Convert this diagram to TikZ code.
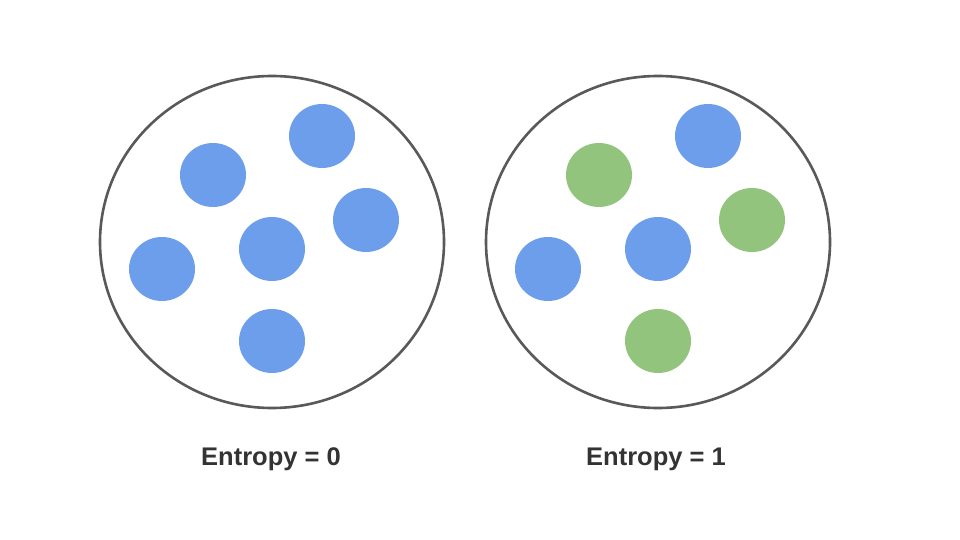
\documentclass[tikz,border=0pt]{standalone}
\usepackage{fontspec}
\setmainfont{Liberation Sans}
\definecolor{dotblue}{HTML}{6D9EEB}
\definecolor{dotgreen}{HTML}{93C47D}
\definecolor{rim}{HTML}{595959}
\definecolor{txt}{HTML}{333333}
\begin{document}
\begin{tikzpicture}[x=1pt,y=-1pt,
  rimstyle/.style={draw=rim,line width=2.6pt},
  bdot/.style={fill=dotblue},
  gdot/.style={fill=dotgreen},
  lbl/.style={font=\bfseries\fontsize{25.5}{29}\selectfont,text=txt}]
\useasboundingbox (0,0) rectangle (960,540);
\fill[white] (0,0) rectangle (960,540);
% left set
\draw[rimstyle] (272,242) ellipse [x radius=172, y radius=166];
\fill[bdot] (322,136) ellipse [x radius=33, y radius=32];
\fill[bdot] (213,175) ellipse [x radius=33, y radius=32];
\fill[bdot] (366,220) ellipse [x radius=33, y radius=32];
\fill[bdot] (272,249) ellipse [x radius=33, y radius=32];
\fill[bdot] (162,269) ellipse [x radius=33, y radius=32];
\fill[bdot] (272,341) ellipse [x radius=33, y radius=32];
% right set
\draw[rimstyle] (658,242) ellipse [x radius=172, y radius=166];
\fill[bdot] (708,136) ellipse [x radius=33, y radius=32];
\fill[gdot] (599,175) ellipse [x radius=33, y radius=32];
\fill[gdot] (752,220) ellipse [x radius=33, y radius=32];
\fill[bdot] (658,249) ellipse [x radius=33, y radius=32];
\fill[bdot] (548,269) ellipse [x radius=33, y radius=32];
\fill[gdot] (658,341) ellipse [x radius=33, y radius=32];
\node[lbl] (l0) at (271,459) {Entropy = 0};
\node[lbl] (l1) at (656,459) {Entropy = 1};
\end{tikzpicture}
\end{document}
